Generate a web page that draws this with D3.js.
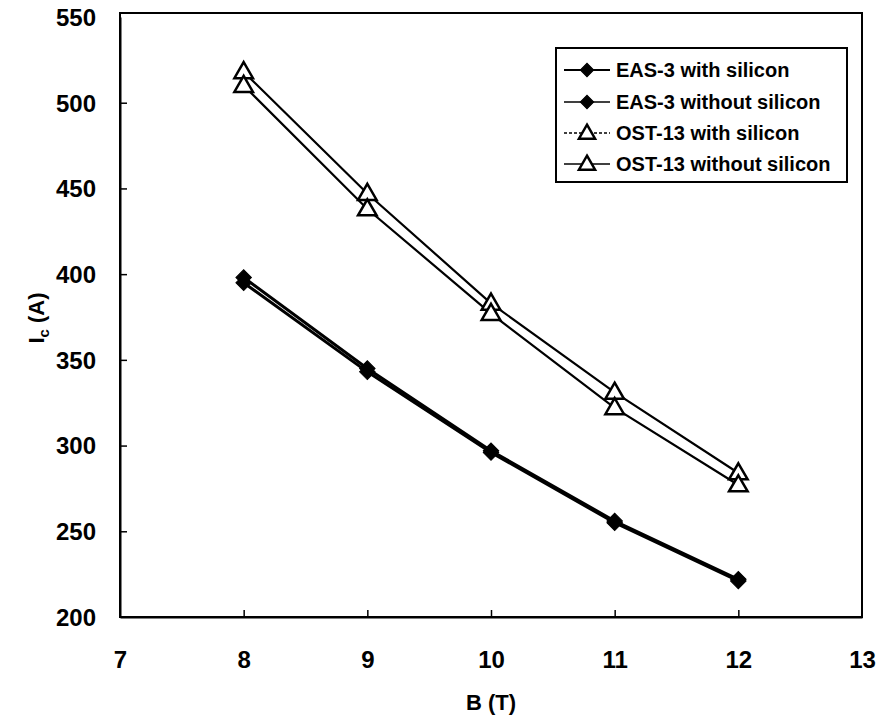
<!DOCTYPE html>
<html>
<head>
<meta charset="utf-8">
<script src="https://cdn.jsdelivr.net/npm/d3@7"></script>
<style>
  html, body { margin: 0; padding: 0; background: #fff; }
  svg text { font-family: "Liberation Sans", Arial, Helvetica, sans-serif; font-weight: bold; fill: #000; }
</style>
</head>
<body>
<svg id="chart" width="879" height="720"></svg>
<script>
// Magnetic field B (T)
const fields = [8, 9, 10, 11, 12];
// Critical current Ic (A) per conductor
const eas3With = [398, 345, 297, 256, 222];
const eas3Without = [395, 343, 296, 255, 221];
const ost13With = [518, 447, 383, 331, 284];
const ost13Without = [510, 438, 377, 322, 277];

const seriesNames = ["EAS-3 with silicon", "EAS-3 without silicon", "OST-13 with silicon", "OST-13 without silicon"];
const seriesValues = [eas3With, eas3Without, ost13With, ost13Without];
const seriesMarker = ["diamond", "diamond", "triangle", "triangle"];

const xTicks = [7, 8, 9, 10, 11, 12, 13];
const yTicks = [200, 250, 300, 350, 400, 450, 500, 550];

const svg = d3.select("#chart");
const plotLeft = 120, plotRight = 862, plotTop = 17, plotBottom = 617;

const x = d3.scaleLinear().domain([7, 13]).range([plotLeft, plotRight]);
const y = d3.scaleLinear().domain([200, 550]).range([plotBottom, plotTop]);

// plot frame
svg.append("rect")
  .attr("x", plotLeft).attr("y", plotTop - 4)
  .attr("width", plotRight - plotLeft).attr("height", plotBottom - plotTop + 4)
  .attr("fill", "none").attr("stroke", "#000").attr("stroke-width", 2);

// axes with inward ticks
const xAxis = svg.append("g").attr("transform", `translate(0,${plotBottom})`)
  .call(d3.axisBottom(x).tickValues(xTicks).tickSizeInner(-7).tickSizeOuter(0).tickPadding(34).tickFormat(d3.format("d")));
const yAxis = svg.append("g").attr("transform", `translate(${plotLeft},0)`)
  .call(d3.axisLeft(y).tickValues(yTicks).tickSizeInner(-7).tickSizeOuter(0).tickPadding(24).tickFormat(d3.format("d")));
[xAxis, yAxis].forEach(g => {
  g.select(".domain").attr("stroke", "#000").attr("stroke-width", 2);
  g.selectAll(".tick line").attr("stroke", "#000").attr("stroke-width", 1.5);
  g.selectAll(".tick text").attr("font-size", 24).attr("font-family", "'Liberation Sans', Arial, sans-serif").attr("font-weight", "bold");
});
xAxis.selectAll(".tick").filter(d => d === 7 || d === 13).select("line").remove();
yAxis.selectAll(".tick").filter(d => d === 200 || d === 550).select("line").remove();
yAxis.selectAll(".tick text").attr("dy", "0.35em");

// axis titles
const yt = svg.append("text")
  .attr("transform", `translate(44,318) rotate(-90)`)
  .attr("text-anchor", "middle").attr("font-size", 22);
yt.append("tspan").text("I");
yt.append("tspan").text("c").attr("font-size", 15).attr("dy", 5);
yt.append("tspan").text(" (A)").attr("dy", -5);

svg.append("text").attr("x", (plotLeft + plotRight) / 2).attr("y", 710)
  .attr("text-anchor", "middle").attr("font-size", 22).text("B (T)");

const line = d3.line().x((d, i) => x(fields[i])).y(d => y(d));

function drawMarker(g, kind, cx, cy, scale) {
  if (kind === "diamond") {
    g.append("path").attr("d", d3.symbol().type(d3.symbolSquare).size(120 * scale)())
      .attr("transform", `translate(${cx},${cy}) rotate(45)`)
      .attr("fill", "#000").attr("stroke", "#000").attr("stroke-width", 1);
  } else {
    g.append("path").attr("d", d3.symbol().type(d3.symbolTriangle).size(150 * scale)())
      .attr("transform", `translate(${cx},${cy + 1})`)
      .attr("fill", "#fff").attr("stroke", "#000").attr("stroke-width", 2.5);
  }
}

// series lines and markers
seriesValues.forEach((vals, s) => {
  const g = svg.append("g");
  g.append("path").datum(vals).attr("d", line)
    .attr("fill", "none").attr("stroke", "#000")
    .attr("stroke-width", seriesMarker[s] === "diamond" ? 3 : 2.2);
});
seriesValues.forEach((vals, s) => {
  const g = svg.append("g");
  vals.forEach((v, i) => drawMarker(g, seriesMarker[s], x(fields[i]), y(v), 1));
});

// legend
const lg = svg.append("g");
lg.append("rect").attr("x", 556).attr("y", 48).attr("width", 291).attr("height", 134)
  .attr("fill", "#fff").attr("stroke", "#000").attr("stroke-width", 2);
const rowY = [70, 102, 133, 164];
seriesNames.forEach((name, s) => {
  const yy = rowY[s];
  lg.append("line").attr("x1", 564).attr("x2", 610).attr("y1", yy).attr("y2", yy)
    .attr("stroke", "#000").attr("stroke-width", s === 0 ? 2 : 1.3)
    .attr("stroke-dasharray", s === 2 ? "3,2" : null);
  drawMarker(lg, seriesMarker[s], 587, yy, 0.75);
  lg.append("text").attr("x", 616).attr("y", yy).attr("dy", "0.36em")
    .attr("font-size", 20).text(name);
});
</script>
</body>
</html>
